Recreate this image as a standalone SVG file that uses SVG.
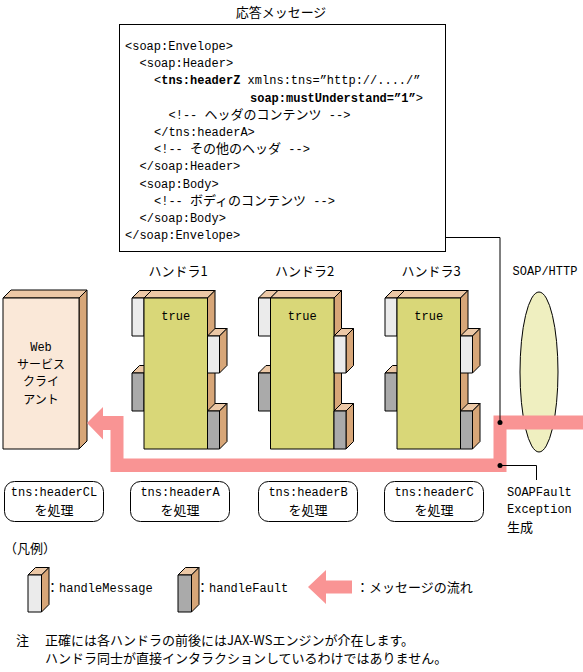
<svg xmlns="http://www.w3.org/2000/svg" width="583" height="672" viewBox="0 0 583 672">
<style>
text{font-family:"Liberation Mono","Noto Sans CJK JP",monospace;font-size:12px;fill:#000}
.j{font-family:"Noto Sans CJK JP","Noto Sans CJK SC",sans-serif;font-size:13px}
.j2{font-family:"Noto Sans CJK JP","Noto Sans CJK SC",sans-serif;font-size:12px}
.b{font-weight:bold}
.c{text-anchor:middle}
.ln{fill:none;stroke:#000;stroke-width:1}
.s{stroke:#000;stroke-width:1;stroke-linejoin:round}
.top{fill:#ECC8A6}
.side{fill:#D7A678}
.wt{fill:#EBEBEB}
.gy{fill:#AAAAAA}
.hb{fill:#D9D778}
.cf{fill:#FAE8D8}
.pink{fill:#F99494}
.pill{fill:#fff;stroke:#000;stroke-width:1}
</style>
<defs>
<g id="hshape">
<polygon class="top s" points="-12,298 -4.5,290.5 7.5,290.5 0,298"/>
<rect class="wt s" x="-12" y="298" width="12" height="38"/>
<polygon class="top s" points="-12,373 -4.5,365.5 7.5,365.5 0,373"/>
<rect class="gy s" x="-12" y="373" width="12" height="38"/>
<polygon class="top s" points="0,298 7.5,290.5 71,290.5 63.5,298"/>
<polygon class="side s" points="63.5,298 71,290.5 71,441.5 63.5,449"/>
<rect class="hb s" x="0" y="298" width="63.5" height="151"/>
<polygon class="top s" points="63.5,336 71,328.5 83,328.5 75.5,336"/>
<polygon class="side s" points="75.5,336 83,328.5 83,365.5 75.5,373"/>
<rect class="wt s" x="63.5" y="336" width="12" height="37"/>
<polygon class="top s" points="63.5,411 71,403.5 83,403.5 75.5,411"/>
<polygon class="side s" points="75.5,411 83,403.5 83,441.5 75.5,449"/>
<rect class="gy s" x="63.5" y="411" width="12" height="38"/>
<text class="c" x="31.75" y="320">true</text>
</g>
</defs>

<g id="response-message">
<text class="j c" x="281" y="17">応答メッセージ</text>
<rect class="pill" x="119.5" y="24.5" width="326" height="227"/>
<text x="125" y="50">&lt;soap:Envelope&gt;</text>
<text x="139.5" y="67.2">&lt;soap:Header&gt;</text>
<text x="154" y="84.4">&lt;<tspan class="b">tns:headerZ</tspan> xmlns:tns=”http://..../”</text>
<text x="250" y="101.6"><tspan class="b">soap:mustUnderstand=”1”</tspan>&gt;</text>
<text x="168.5" y="118.8">&lt;!-- <tspan class="j">ヘッダのコンテンツ</tspan> --&gt;</text>
<text x="154" y="136">&lt;/tns:headerA&gt;</text>
<text x="154" y="153.2">&lt;!-- <tspan class="j">その他のヘッダ</tspan> --&gt;</text>
<text x="139.5" y="170.4">&lt;/soap:Header&gt;</text>
<text x="139.5" y="187.6">&lt;soap:Body&gt;</text>
<text x="154" y="204.8">&lt;!-- <tspan class="j">ボディのコンテンツ</tspan> --&gt;</text>
<text x="139.5" y="222">&lt;/soap:Body&gt;</text>
<text x="125" y="239.2">&lt;/soap:Envelope&gt;</text>
</g>

<g id="web-client">
<polygon class="top s" points="3,298 11,290 87,290 79,298"/>
<polygon class="side s" points="79,298 87,290 87,441 79,449"/>
<rect class="cf s" x="3" y="298" width="76" height="151"/>
<text class="c" x="41" y="351">Web</text>
<text class="j2 c" x="41" y="368.5">サービス</text>
<text class="j2 c" x="41" y="386">クライ</text>
<text class="j2 c" x="41" y="403.5">アント</text>
</g>

<g id="handler1">
<text class="j c" x="178" y="276">ハンドラ1</text>
<use href="#hshape" transform="translate(144,0)"/>
</g>
<g id="handler2">
<text class="j c" x="304.5" y="276">ハンドラ2</text>
<use href="#hshape" transform="translate(270.5,0)"/>
</g>
<g id="handler3">
<text class="j c" x="431" y="276">ハンドラ3</text>
<use href="#hshape" transform="translate(397,0)"/>
</g>

<g id="soap-http">
<text class="c" x="545" y="275">SOAP/HTTP</text>
<ellipse cx="539" cy="372" rx="19" ry="80" fill="#EFEFC0" stroke="#000" stroke-width="1"/>
</g>

<g id="connectors">
<polygon class="pink" points="583,415.5 493.5,415.5 493.5,458.5 123.5,458.5 123.5,416 103,416 103,407 87,423 103,439.5 103,430 110.5,430 110.5,472 506.5,472 506.5,429.5 583,429.5"/>
<polyline class="ln" points="445.5,237.5 500,237.5 500,422.5"/>
<circle cx="500" cy="422.5" r="2.5" fill="#000"/>
<polyline class="ln" points="500,465.5 536.5,465.5 536.5,480"/>
<circle cx="500" cy="465.5" r="2.5" fill="#000"/>
</g>

<g id="soapfault">
<text x="507" y="496">SOAPFault</text>
<text x="507" y="513">Exception</text>
<text class="j" x="507" y="532">生成</text>
</g>

<g id="pill-cl">
<rect class="pill" x="4.5" y="481.5" width="99" height="40" rx="10"/>
<text class="c" x="54" y="496">tns:headerCL</text>
<text class="j c" x="54" y="515">を処理</text>
</g>
<g id="pill-a">
<rect class="pill" x="130.5" y="481.5" width="99" height="40" rx="10"/>
<text class="c" x="180" y="496">tns:headerA</text>
<text class="j c" x="180" y="515">を処理</text>
</g>
<g id="pill-b">
<rect class="pill" x="258.5" y="481.5" width="99" height="40" rx="10"/>
<text class="c" x="308" y="496">tns:headerB</text>
<text class="j c" x="308" y="515">を処理</text>
</g>
<g id="pill-c">
<rect class="pill" x="384.5" y="481.5" width="99" height="40" rx="10"/>
<text class="c" x="434" y="496">tns:headerC</text>
<text class="j c" x="434" y="515">を処理</text>
</g>

<g id="legend">
<text class="j" x="4" y="553">（凡例）</text>
<polygon class="top s" points="28,575 35.5,567.5 49,567.5 41.5,575"/>
<polygon class="side s" points="41.5,575 49,567.5 49,604.5 41.5,612"/>
<rect class="wt s" x="28" y="575" width="13.5" height="37"/>
<text x="46" y="592"><tspan class="j">：</tspan>handleMessage</text>
<polygon class="top s" points="178,575 185.5,567.5 199,567.5 191.5,575"/>
<polygon class="side s" points="191.5,575 199,567.5 199,604.5 191.5,612"/>
<rect class="gy s" x="178" y="575" width="13.5" height="37"/>
<text x="196" y="592"><tspan class="j">：</tspan>handleFault</text>
<polygon class="pink" points="308,587 326,570 326,580.5 352,580.5 352,593.5 326,593.5 326,604"/>
<text class="j" x="356" y="592">：メッセージの流れ</text>
</g>

<g id="note">
<text class="j" x="16" y="645">注</text>
<text class="j" x="45" y="645">正確には各ハンドラの前後にはJAX-WSエンジンが介在します。</text>
<text class="j" x="45" y="663">ハンドラ同士が直接インタラクションしているわけではありません。</text>
</g>
</svg>
